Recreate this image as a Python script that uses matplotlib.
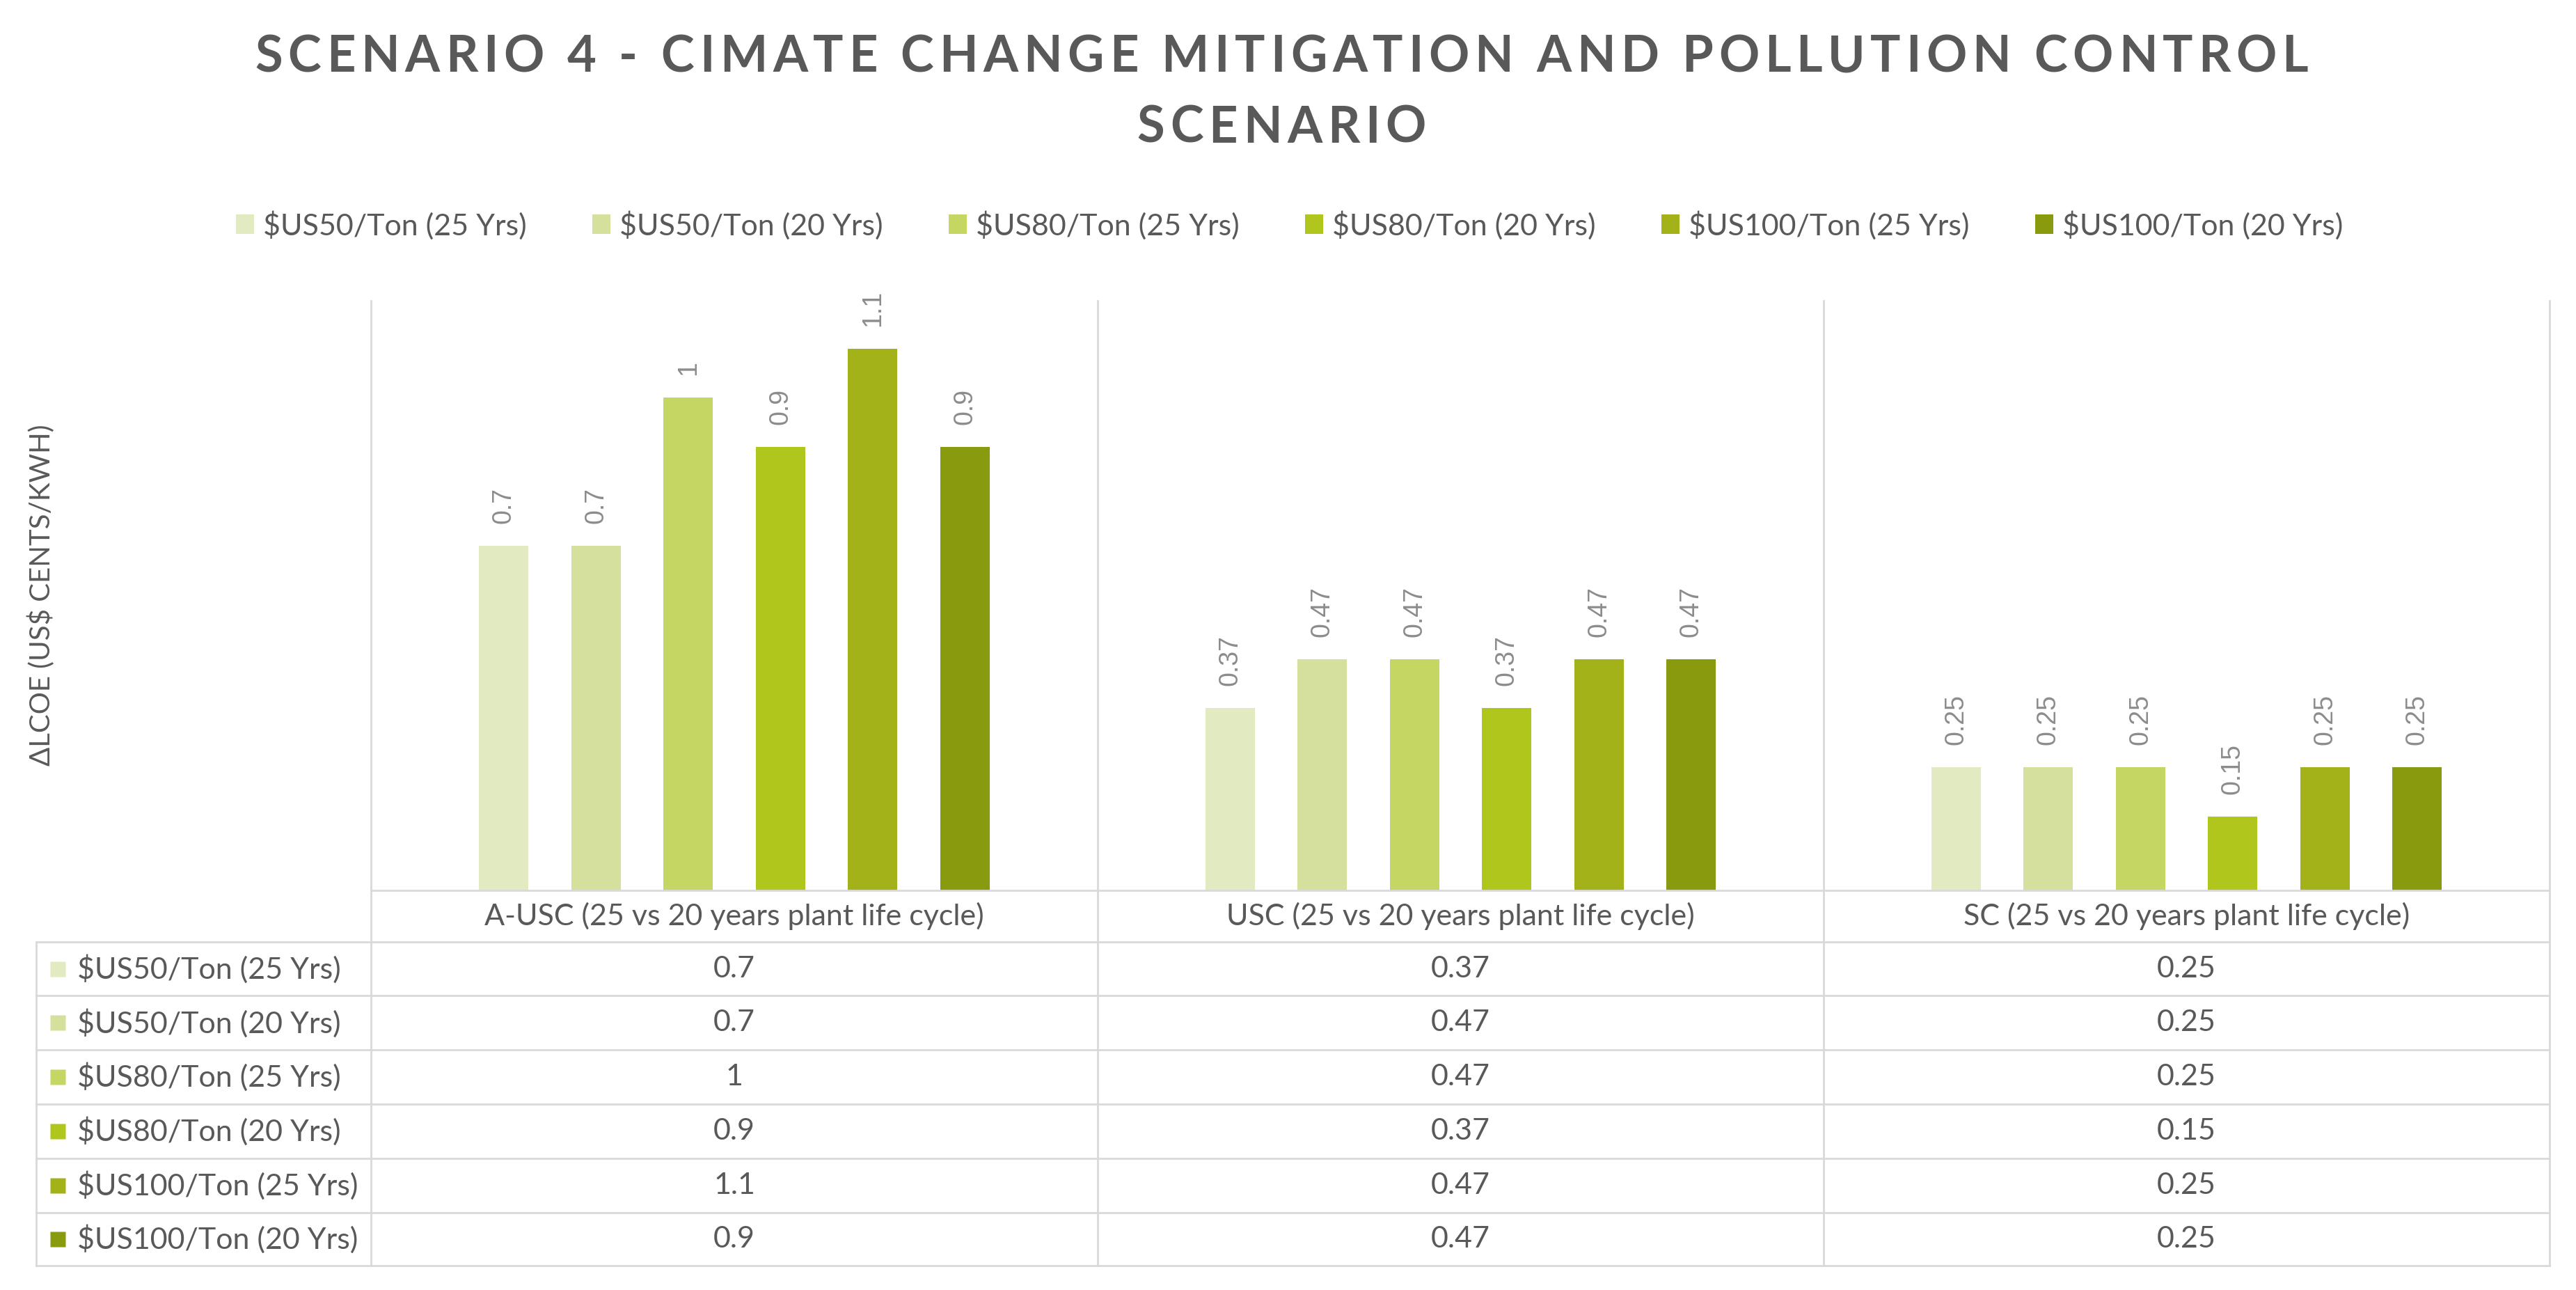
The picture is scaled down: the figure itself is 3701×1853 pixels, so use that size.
import matplotlib
matplotlib.use("Agg")
import matplotlib.pyplot as plt
import matplotlib.transforms as mtransforms
from matplotlib.font_manager import FontProperties
import numpy as np

plt.rcParams['font.family'] = ['Lato', 'DejaVu Sans']

categories = ['A-USC (25 vs 20 years plant life cycle)',
              'USC (25 vs 20 years plant life cycle)',
              'SC (25 vs 20 years plant life cycle)']
series = ['$US50/Ton (25 Yrs)', '$US50/Ton (20 Yrs)', '$US80/Ton (25 Yrs)',
          '$US80/Ton (20 Yrs)', '$US100/Ton (25 Yrs)', '$US100/Ton (20 Yrs)']
values = [
    [0.7, 0.37, 0.25],
    [0.7, 0.47, 0.25],
    [1, 0.47, 0.25],
    [0.9, 0.37, 0.15],
    [1.1, 0.47, 0.25],
    [0.9, 0.47, 0.25],
]
colors = ['#E1EAC1', '#D4E09C', '#C5D762', '#B1C61D', '#A2B218', '#899A0E']

title_lines = ['SCENARIO 4 - CIMATE CHANGE MITIGATION AND POLLUTION CONTROL', 'SCENARIO']
ylabel = '\u0394LCOE (US$ CENTS/KWH)'

txt = '#595959'
grid = '#D9D9D9'
fs = 31

W, H = 3701, 1853
fig = plt.figure(figsize=(W / 100, H / 100), dpi=100)
ax = fig.add_axes([0.1441, 0.3096, 0.9898 - 0.1441, 0.7669 - 0.3096])

x = np.arange(len(categories)) + 0.5
step = 0.127
width = 0.068
bars = []
for i, (name, vals) in enumerate(zip(series, values)):
    b = ax.bar(x + (i - 2.5) * step, vals, width, color=colors[i], label=name)
    bars.append(b)
    for rect, v in zip(b, vals):
        ax.annotate(f'{v:g}', (rect.get_x() + rect.get_width() / 2, v),
                    xytext=(0, 23), textcoords='offset points',
                    rotation=90, ha='center', va='bottom',
                    fontsize=27, color='#8C8C8C', family='Liberation Sans')

ax.set_xlim(0, 3)
ax.set_ylim(0, 1.197)
ax.set_xticks([])
ax.set_yticks([])
for s in ax.spines.values():
    s.set_visible(False)

# data table under the plot
tr = mtransforms.blended_transform_factory(ax.transData, fig.transFigure)
yd = [542, 573, 606, 639, 672, 705, 738, 770]
yf = [1 - v / 785 for v in yd]
x_left = -0.4615
y_top = 1 - 183 / 785
lw = 2

ax.plot([0, 3], [yf[0], yf[0]], color=grid, lw=lw, transform=tr, clip_on=False)
for yy in yf[1:]:
    ax.plot([x_left, 3], [yy, yy], color=grid, lw=lw, transform=tr, clip_on=False)
ax.plot([x_left, x_left], [yf[1], yf[-1]], color=grid, lw=lw, transform=tr, clip_on=False)
for xx in range(4):
    ax.plot([xx, xx], [y_top, yf[-1]], color=grid, lw=lw, transform=tr, clip_on=False)

for j, c in enumerate(categories):
    ax.text(j + 0.5, (yf[0] + yf[1]) / 2, c, transform=tr, ha='center', va='center',
            fontsize=fs, color=txt)

for i, name in enumerate(series):
    yc = (yf[i + 1] + yf[i + 2]) / 2
    ax.plot([-0.4315], [yc], marker='s', ms=16, color=colors[i], mec='none',
            transform=tr, clip_on=False)
    ax.text(-0.405, yc, name, transform=tr, ha='left', va='center',
            fontsize=fs, color=txt)
    for j in range(len(categories)):
        ax.text(j + 0.5, yc, f'{values[i][j]:g}', transform=tr, ha='center',
                va='center', fontsize=fs, color=txt)

# letter-spaced title
renderer = fig.canvas.get_renderer()
fp = FontProperties(family='Lato', weight='bold', size=52)
def char_w(ch):
    return renderer.get_text_width_height_descent(ch, fp, ismath=False)[0]
w1 = [char_w(c) for c in title_lines[0]]
spacing = (2950 - sum(w1)) / (len(w1) - 1)
for line, yy in zip(title_lines, [1 - 35 / 785, 1 - 78 / 785]):
    ws = [char_w(c) for c in line]
    total = sum(ws) + spacing * (len(ws) - 1)
    xp = W * 0.4975 - total / 2
    for ch, w in zip(line, ws):
        fig.text(xp / W, yy, ch, ha='left', va='center', fontproperties=fp, color=txt)
        xp += w + spacing

fig.text(0.0159, 0.5386, ylabel, rotation=90, ha='center', va='center',
         fontsize=29, color=txt)

fig.legend(handles=bars, labels=series, loc='center', ncol=6,
           bbox_to_anchor=(0.5006, 1 - 137 / 785), frameon=False,
           fontsize=fs, handlelength=0.6, handleheight=0.6, handletextpad=0.3,
           columnspacing=2.2, labelcolor=txt)

fig.savefig('out.png', dpi=100)
